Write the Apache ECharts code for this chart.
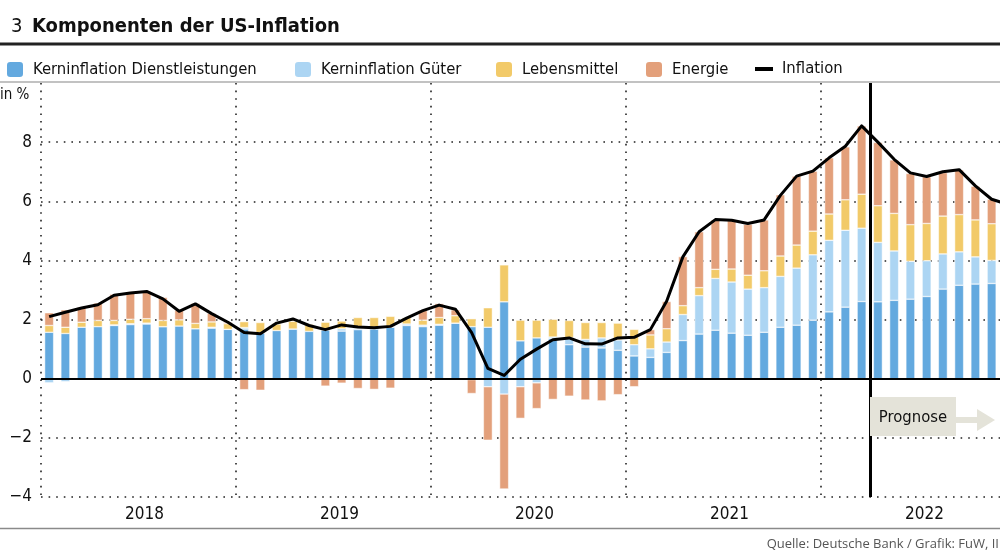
<!DOCTYPE html>
<html>
<head>
<meta charset="utf-8">
<title>Komponenten der US-Inflation</title>
<script src="https://cdn.jsdelivr.net/npm/echarts@6/dist/echarts.min.js"></script>
<style>
  html, body { margin: 0; padding: 0; background: #fff; }
  #chart { width: 1000px; height: 552px; }
</style>
</head>
<body>
<div id="chart"></div>
<script>
var years = ["2018", "2019", "2020", "2021", "2022"];

// Monatswerte Jan 2018 - Dez 2022 (Dez 2022 nur Linie)
var dienstleistungen = [
    1.57, 1.53, 1.74, 1.76, 1.80, 1.83, 1.85, 1.76, 1.78, 1.69, 1.71, 1.67,
    1.68, 1.55, 1.63, 1.68, 1.60, 1.65, 1.61, 1.66, 1.68, 1.74, 1.80, 1.76,
    1.81, 1.88, 1.76, 1.74, 2.60, 1.28, 1.38, 1.36, 1.15, 1.07, 1.04, 0.96,
    0.77, 0.72, 0.89, 1.29, 1.51, 1.64, 1.54, 1.47, 1.57, 1.74, 1.81, 1.98,
    2.26, 2.42, 2.61, 2.60, 2.65, 2.69, 2.78, 3.03, 3.16, 3.20, 3.22, null
];
var gueter = [
    -0.14, -0.10, -0.04, -0.04, 0.02, 0.03, 0.03, 0.00, -0.03, 0.00, 0.03, 0.00,
    0.05, 0.00, 0.00, 0.00, -0.03, 0.00, 0.08, 0.05, 0.05, 0.03, 0.05, 0.05,
    0.03, 0.00, -0.03, -0.27, -0.52, -0.27, -0.14, 0.05, 0.24, 0.26, 0.34, 0.35,
    0.38, 0.29, 0.35, 0.88, 1.30, 1.75, 1.73, 1.56, 1.51, 1.72, 1.93, 2.21,
    2.42, 2.60, 2.48, 2.01, 1.67, 1.28, 1.21, 1.19, 1.13, 0.92, 0.78, null
];
var lebensmittel = [
    0.23, 0.21, 0.17, 0.21, 0.15, 0.15, 0.15, 0.21, 0.21, 0.18, 0.18, 0.19,
    0.20, 0.35, 0.22, 0.26, 0.25, 0.26, 0.26, 0.36, 0.34, 0.34, 0.22, 0.17,
    0.23, 0.25, 0.27, 0.66, 1.25, 0.70, 0.60, 0.60, 0.58, 0.57, 0.52, 0.57,
    0.52, 0.47, 0.45, 0.30, 0.27, 0.31, 0.44, 0.47, 0.57, 0.69, 0.78, 0.80,
    0.89, 1.03, 1.15, 1.24, 1.27, 1.24, 1.26, 1.28, 1.26, 1.25, 1.24, null
];
var energie = [
    0.43, 0.59, 0.51, 0.59, 0.89, 0.89, 0.93, 0.78, 0.33, 0.68, 0.29, 0.05,
    -0.37, -0.39, 0.03, 0.06, 0.00, -0.25, -0.15, -0.33, -0.36, -0.32, 0.00, 0.33,
    0.47, 0.20, -0.47, -1.81, -3.21, -1.07, -0.87, -0.70, -0.59, -0.72, -0.75, -0.54,
    -0.27, 0.18, 0.92, 1.66, 1.89, 1.67, 1.64, 1.72, 1.72, 2.07, 2.33, 2.03,
    1.90, 1.79, 2.31, 2.14, 1.81, 1.73, 1.58, 1.47, 1.51, 1.14, 0.83, null
];
var inflation = [
    2.10, 2.25, 2.39, 2.50, 2.82, 2.90, 2.95, 2.70, 2.28, 2.53, 2.20, 1.91,
    1.56, 1.52, 1.88, 2.02, 1.80, 1.66, 1.82, 1.75, 1.72, 1.77, 2.05, 2.30,
    2.49, 2.35, 1.56, 0.35, 0.11, 0.66, 1.00, 1.32, 1.38, 1.18, 1.17, 1.38,
    1.40, 1.66, 2.62, 4.12, 4.97, 5.38, 5.36, 5.25, 5.37, 6.20, 6.85, 7.02,
    7.47, 7.86, 8.55, 8.00, 7.42, 6.96, 6.84, 7.00, 7.07, 6.52, 6.07, 5.90
];
var yTicks = [-4, -2, 0, 2, 4, 6, 8, 10];
var prognoseStart = 51; // Beginn Prognose: April 2022 (Monatsindex)

var months = [];
years.forEach(function (y) {
    for (var m = 1; m <= 12; m++) months.push(y + "-" + (m < 10 ? "0" + m : m));
});

var FONT = "'DejaVu Sans Condensed', 'Liberation Sans Narrow', sans-serif";
var colors = {
    dl: "#63a9df",
    gu: "#acd5f3",
    le: "#f2ca69",
    en: "#e3a07b"
};
var dotted = { color: "#222", width: 1.6, type: [1.6, 6] };

function barSeries(name, data, color) {
    return {
        name: name,
        type: "bar",
        stack: "komp",
        xAxisIndex: 0,
        barWidth: 9,
        data: data,
        itemStyle: { color: color, borderColor: "#fff", borderWidth: 0.5 },
        emphasis: { disabled: true }
    };
}

function legendItem(left, name, icon) {
    var d = { name: name };
    if (icon) d.icon = icon;
    return {
        left: left,
        top: 55,
        itemWidth: 18,
        itemHeight: 17,
        selectedMode: false,
        data: [d],
        textStyle: { fontFamily: FONT, fontSize: 16.5, color: "#111", padding: [0, 0, 0, 4] }
    };
}

var chart = echarts.init(document.getElementById("chart"), null, { renderer: "canvas" });

var option = {
    animation: false,
    backgroundColor: "#fff",
    textStyle: { fontFamily: FONT },
    title: [
        { text: "3", left: 6, top: 12, textStyle: { fontFamily: FONT, fontSize: 20, fontWeight: "normal", color: "#111" } },
        { text: "Komponenten der US-Inflation", left: 27, top: 12, textStyle: { fontFamily: FONT, fontSize: 20, fontWeight: "bold", color: "#111" } }
    ],
    legend: [
        legendItem(0, "Kerninflation Dienstleistungen"),
        legendItem(288, "Kerninflation Güter"),
        legendItem(489, "Lebensmittel"),
        legendItem(639, "Energie"),
        legendItem(750, "Inflation", "path://M0,0 M0,7 L18,7 L18,11 L0,11 Z M18,17")
    ],
    // Monate 2018-2022, Dezember 2022 liegt rechts außerhalb des Bildes
    grid: { left: 41, width: 975, top: 83, bottom: 55, containLabel: false, outerBoundsMode: "none" },
    xAxis: [
        {
            type: "category",
            data: months,
            show: true,
            axisLine: { show: false },
            axisTick: { show: false },
            axisLabel: { show: false },
            splitLine: { show: false }
        },
        {
            type: "category",
            data: years,
            position: "bottom",
            axisLine: { show: false },
            axisTick: { show: false },
            axisLabel: {
                color: "#111",
                fontFamily: FONT,
                fontSize: 17,
                margin: 9,
                padding: [0, 0, 0, 12]
            },
            splitLine: { show: true, interval: 0, lineStyle: dotted }
        },
        {
            type: "value",
            min: 0,
            max: months.length,
            show: false
        }
    ],
    yAxis: {
        type: "value",
        min: yTicks[0],
        max: yTicks[yTicks.length - 1],
        interval: 2,
        axisLine: { show: false },
        axisTick: { show: false },
        axisLabel: {
            color: "#111",
            fontFamily: FONT,
            fontSize: 17,
            margin: 9,
            showMaxLabel: false,
            formatter: function (v) { return v < 0 ? "\u2212" + Math.abs(v) : String(v); }
        },
        splitLine: { show: true, showMaxLine: false, lineStyle: dotted }
    },
    series: [
        barSeries("Kerninflation Dienstleistungen", dienstleistungen, colors.dl),
        barSeries("Kerninflation Güter", gueter, colors.gu),
        barSeries("Lebensmittel", lebensmittel, colors.le),
        barSeries("Energie", energie, colors.en),
        {
            name: "Inflation",
            type: "line",
            xAxisIndex: 0,
            data: inflation,
            symbol: "none",
            z: 5,
            itemStyle: { color: "#000" },
            lineStyle: { color: "#000", width: 3, join: "round" },
            emphasis: { disabled: true },
            markLine: {
                silent: true,
                symbol: "none",
                label: { show: false },
                lineStyle: { color: "#000", width: 2, type: "solid" },
                data: [{ yAxis: 0 }]
            }
        },
        {
            name: "Prognose",
            type: "line",
            xAxisIndex: 2,
            data: [[prognoseStart, 0]],
            symbol: "none",
            lineStyle: { width: 0 },
            z: 6,
            markLine: {
                silent: true,
                symbol: "none",
                label: { show: false },
                lineStyle: { color: "#000", width: 3, type: "solid" },
                data: [{ xAxis: prognoseStart }]
            }
        }
    ],
    graphic: [
        { type: "line", z: 100, shape: { x1: 0, y1: 44, x2: 1000, y2: 44 }, style: { stroke: "#222", lineWidth: 3 } },
        { type: "line", z: 100, shape: { x1: 0, y1: 82, x2: 1000, y2: 82 }, style: { stroke: "#c2c2c2", lineWidth: 2 } },
        { type: "line", z: 100, shape: { x1: 0, y1: 528.5, x2: 1000, y2: 528.5 }, style: { stroke: "#8a8a8a", lineWidth: 1.5 } },
        { type: "text", z: 100, left: 0, top: 88, style: { text: "in %", font: "15px " + FONT, fill: "#111" } },
        { type: "rect", z: 100, shape: { x: 870, y: 397, width: 86, height: 39 }, style: { fill: "#e4e3d9" } },
        { type: "text", z: 101, x: 913, y: 418, style: { text: "Prognose", font: "16.5px " + FONT, fill: "#111", align: "center", verticalAlign: "middle" } },
        {
            type: "polygon", z: 100,
            shape: { points: [[956, 417], [977, 417], [977, 409], [995, 420], [977, 431], [977, 423], [956, 423]] },
            style: { fill: "#e4e3d9" }
        },
        {
            type: "text", z: 100, right: 1, top: 538,
            style: { text: "Quelle: Deutsche Bank / Grafik: FuW, II", font: "13px 'Open Sans', 'DejaVu Sans', sans-serif", fill: "#555" }
        }
    ]
};

chart.setOption(option);
</script>
</body>
</html>
